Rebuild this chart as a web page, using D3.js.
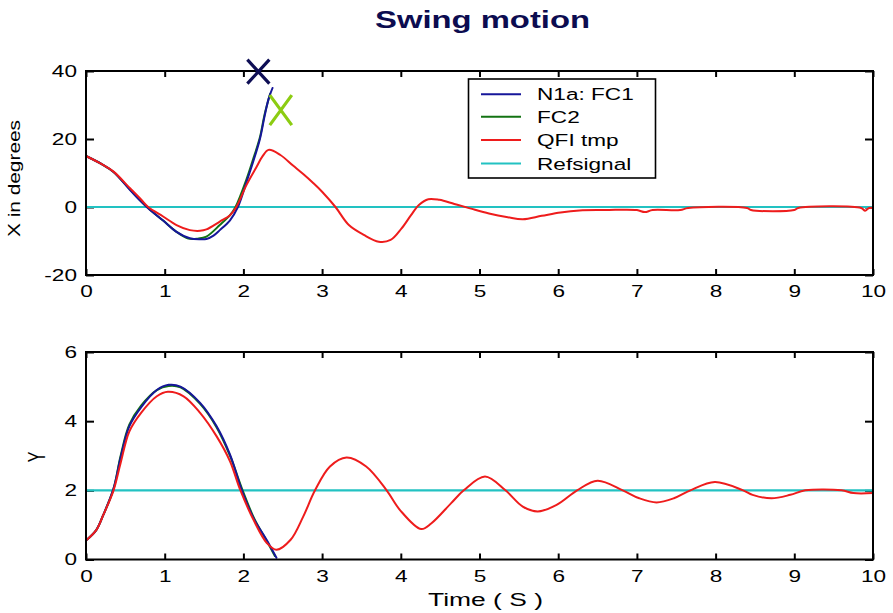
<!DOCTYPE html>
<html>
<head>
<meta charset="utf-8">
<script src="https://cdn.jsdelivr.net/npm/d3@7"></script>
<style>
  body { margin: 0; background: #fff; }
  svg { display: block; }
</style>
</head>
<body>
<svg id="chart" width="893" height="613"></svg>
<script>
// ---- data -------------------------------------------------------------
const timeTicks = [0, 1, 2, 3, 4, 5, 6, 7, 8, 9, 10];
const timeTickLabels = ["0", "1", "2", "3", "4", "5", "6", "7", "8", "9", "10"];
const angleTicks = [-20, 0, 20, 40];
const angleTickLabels = ["-20", "0", "20", "40"];
const posTicks = [0, 2, 4, 6];
const posTickLabels = ["0", "2", "4", "6"];

const seriesNames = ["N1a: FC1", "FC2", "QFI tmp", "Refsignal"];

// swing angle X (degrees) vs time (s)
const angleFC1 = [[0, 15], [0.2, 12.6], [0.35, 10.3], [0.56, 5.0], [0.7, 1.6], [0.8, -0.6], [0.98, -4.0],
  [1.15, -7.3], [1.32, -9.2], [1.45, -9.5], [1.53, -9.4], [1.62, -8.4], [1.7, -6.8], [1.83, -3.9],
  [1.93, 0], [2.04, 7.4], [2.12, 13.0], [2.21, 20.0], [2.27, 26.8], [2.32, 31.8], [2.37, 35]];
const angleFC2 = [[0, 15], [0.2, 12.6], [0.35, 10.3], [0.56, 5.1], [0.7, 1.7], [0.8, -0.5], [0.98, -4.0],
  [1.15, -7.3], [1.3, -9.3], [1.42, -9.3], [1.53, -8.7], [1.7, -5.3], [1.83, -2.4], [1.9, 0],
  [2.04, 8.2], [2.12, 13.8], [2.21, 20.5], [2.27, 27.3], [2.34, 33.3]];
const angleQFI = [[0, 15], [0.2, 12.6], [0.35, 10.4], [0.56, 5.5], [0.7, 2.2], [0.79, 0], [0.98, -2.8],
  [1.15, -5.3], [1.32, -6.8], [1.45, -7.0], [1.53, -6.6], [1.7, -4.3], [1.83, -2.4], [1.91, 0],
  [2.04, 6.5], [2.17, 11.9], [2.24, 14.8], [2.32, 16.8], [2.47, 15.3], [2.63, 12.2], [2.76, 9.7],
  [2.89, 7], [3.0, 4.5], [3.17, 0], [3.34, -5.3], [3.53, -8.2], [3.72, -10.2], [3.87, -9.7],
  [4.01, -6.3], [4.13, -2.4], [4.23, 0.6], [4.35, 2.3], [4.49, 2.1], [4.68, 0.9], [4.88, -0.4],
  [5.12, -1.9], [5.36, -3.0], [5.55, -3.6], [5.79, -2.6], [6.03, -1.6], [6.27, -1.0], [6.6, -0.9],
  [7.0, -0.9], [7.1, -1.5], [7.2, -0.9], [7.55, -0.9], [7.65, -0.3], [8.4, -0.3], [8.45, -0.9],
  [9.0, -0.9], [9.05, -0.3], [9.85, -0.3], [9.9, -1.1], [9.95, -0.3], [10, -0.3]];
const angleRef = [[0, 0], [10, 0]];

// end-of-run markers on the angle panel
const markerTimes = [2.19, 2.475];
const markerAngles = [39.8, 28.5];

// position Y vs time (s)
const posFC1 = [[0, 0.55], [0.13, 0.85], [0.22, 1.29], [0.35, 2.05], [0.44, 2.95], [0.55, 3.85],
  [0.7, 4.4], [0.9, 4.9], [1.05, 5.05], [1.2, 5.0], [1.45, 4.53], [1.66, 3.85], [1.83, 3.03],
  [1.98, 2.0], [2.13, 1.19], [2.3, 0.55], [2.42, 0.05]];
const posFC2 = [[0, 0.55], [0.13, 0.85], [0.22, 1.29], [0.35, 2.05], [0.44, 3.0], [0.55, 3.9],
  [0.7, 4.45], [0.9, 4.9], [1.05, 5.02], [1.2, 4.98], [1.45, 4.5], [1.66, 3.82], [1.83, 3.0],
  [1.99, 2.0], [2.14, 1.17], [2.3, 0.52], [2.4, 0.1]];
const posQFI = [[0, 0.55], [0.13, 0.85], [0.22, 1.29], [0.35, 2.0], [0.44, 2.79], [0.55, 3.7],
  [0.7, 4.24], [0.9, 4.72], [1.04, 4.85], [1.24, 4.72], [1.45, 4.24], [1.66, 3.56], [1.83, 2.84],
  [1.96, 2.01], [2.13, 1.14], [2.3, 0.47], [2.42, 0.28], [2.6, 0.57], [2.76, 1.24], [2.91, 2.0],
  [3.1, 2.69], [3.31, 2.95], [3.56, 2.69], [3.82, 2.0], [3.99, 1.43], [4.26, 0.88], [4.39, 1.05],
  [4.64, 1.63], [4.8, 2.0], [5.07, 2.4], [5.33, 2.0], [5.55, 1.53], [5.74, 1.39], [5.98, 1.58],
  [6.24, 2.0], [6.5, 2.28], [6.82, 2.0], [7.03, 1.77], [7.25, 1.65], [7.47, 1.77], [7.68, 2.0],
  [7.99, 2.24], [8.35, 2.0], [8.47, 1.87], [8.71, 1.77], [8.95, 1.87], [9.14, 2.0], [9.6, 2.0],
  [9.75, 1.92], [10, 1.92]];
const posRef = [[0, 2], [10, 2]];

// ---- layout & style ---------------------------------------------------
const colors = { fc1: "#16169a", fc2: "#137313", qfi: "#ee1c1c", ref: "#22c2c2" };
const font = "'Liberation Sans', Arial, Helvetica, sans-serif";
const SX = 1.33;           // horizontal stretch of all lettering

const svg = d3.select("#chart");
const x = d3.scaleLinear().domain([0, 10]).range([86, 873]);
const yAngle = d3.scaleLinear().domain([-20, 40]).range([275, 71]);
const yPos = d3.scaleLinear().domain([0, 6]).range([559.5, 352]);

const lineGen = y => d3.line()
  .x(d => x(d[0]))
  .y(d => y(d[1]))
  .curve(d3.curveCatmullRom.alpha(0.5));

function panel(y, ticks, tickLabels, series) {
  const [y0, y1] = y.range();
  const [x0, x1] = x.range();

  // inward ticks on all four sides
  const bottom = svg.append("g").attr("transform", `translate(0,${y0})`)
    .call(d3.axisBottom(x).tickValues(timeTicks).tickFormat((d, i) => timeTickLabels[i])
      .tickSizeInner(-6).tickSizeOuter(0).tickPadding(10));
  const top = svg.append("g").attr("transform", `translate(0,${y1})`)
    .call(d3.axisTop(x).tickValues(timeTicks).tickFormat("").tickSizeInner(-6).tickSizeOuter(0));
  const left = svg.append("g").attr("transform", `translate(${x0},0)`)
    .call(d3.axisLeft(y).tickValues(ticks).tickFormat((d, i) => tickLabels[i])
      .tickSizeInner(-8).tickSizeOuter(0).tickPadding(9));
  const right = svg.append("g").attr("transform", `translate(${x1},0)`)
    .call(d3.axisRight(y).tickValues(ticks).tickFormat("").tickSizeInner(-8).tickSizeOuter(0));

  [bottom, top, left, right].forEach(g => {
    g.select(".domain").remove();
    g.attr("font-size", 17).attr("font-family", font).attr("color", "#000");
    g.selectAll("line").attr("stroke-width", 2);
  });
  top.selectAll("text").remove();
  right.selectAll("text").remove();
  bottom.selectAll("text").attr("transform", `scale(${SX},1)`).attr("fill", "#000");
  left.selectAll("text").attr("x", -9 / SX).attr("transform", `scale(${SX},1)`).attr("fill", "#000");

  // curves
  series.forEach(s => {
    svg.append("path")
      .datum(s.data)
      .attr("d", lineGen(y))
      .attr("fill", "none")
      .attr("stroke", s.color)
      .attr("stroke-width", s.width || 2)
      .attr("stroke-linejoin", "round")
      .attr("stroke-linecap", "round");
  });

  // axes box
  svg.append("rect")
    .attr("x", x0).attr("y", y1)
    .attr("width", x1 - x0).attr("height", y0 - y1)
    .attr("fill", "none").attr("stroke", "#000").attr("stroke-width", 2);
}

panel(yAngle, angleTicks, angleTickLabels, [
  { data: angleRef, color: colors.ref, width: 2.2 },
  { data: angleFC2, color: colors.fc2 },
  { data: angleFC1, color: colors.fc1 },
  { data: angleQFI, color: colors.qfi }
]);

panel(yPos, posTicks, posTickLabels, [
  { data: posRef, color: colors.ref, width: 2.2 },
  { data: posFC2, color: colors.fc2 },
  { data: posFC1, color: colors.fc1 },
  { data: posQFI, color: colors.qfi }
]);

// X markers at the end of the FC runs
const markerColors = ["#0e0e55", "#8ccc12"];
const markerSize = [[22, 24], [22, 30]];
markerTimes.forEach((t, i) => {
  const [w, h] = markerSize[i];
  svg.append("path")
    .attr("transform", `translate(${x(t)},${yAngle(markerAngles[i])})`)
    .attr("d", `M${-w / 2},${-h / 2}L${w / 2},${h / 2}M${-w / 2},${h / 2}L${w / 2},${-h / 2}`)
    .attr("fill", "none")
    .attr("stroke", markerColors[i])
    .attr("stroke-width", 3.2);
});

// legend
const legendColors = [colors.fc1, colors.fc2, colors.qfi, colors.ref];
const lg = svg.append("g");
lg.append("rect")
  .attr("x", 468.5).attr("y", 79)
  .attr("width", 187).attr("height", 99)
  .attr("fill", "#fff").attr("stroke", "#000").attr("stroke-width", 1.6);
const legendRows = [94.3, 116.7, 140, 163.5];
seriesNames.forEach((name, i) => {
  const yy = legendRows[i];
  lg.append("line")
    .attr("x1", 481).attr("x2", 521).attr("y1", yy).attr("y2", yy)
    .attr("stroke", legendColors[i]).attr("stroke-width", 2);
  lg.append("text")
    .attr("transform", `translate(537,${yy + 6}) scale(${SX},1)`)
    .attr("font-family", font).attr("font-size", 17).attr("fill", "#000")
    .text(name);
});

// titles and axis labels
svg.append("text")
  .attr("x", 482.5).attr("y", 28)
  .attr("text-anchor", "middle")
  .attr("font-family", font).attr("font-size", 24).attr("font-weight", "bold")
  .attr("fill", "#0c0c50")
  .attr("textLength", 215).attr("lengthAdjust", "spacingAndGlyphs")
  .text("Swing motion");

svg.append("text")
  .attr("x", 485.5).attr("y", 606)
  .attr("text-anchor", "middle")
  .attr("font-family", font).attr("font-size", 18).attr("fill", "#000")
  .attr("textLength", 115).attr("lengthAdjust", "spacingAndGlyphs")
  .text("Time ( S )");

svg.append("text")
  .attr("transform", "translate(20,178.5) rotate(-90)")
  .attr("text-anchor", "middle")
  .attr("font-family", font).attr("font-size", 16).attr("fill", "#000")
  .attr("textLength", 117).attr("lengthAdjust", "spacingAndGlyphs")
  .text("X in degrees");

svg.append("text")
  .attr("transform", "translate(45,457) scale(1.5,1) rotate(-90)")
  .attr("text-anchor", "middle")
  .attr("font-family", font).attr("font-size", 16).attr("fill", "#000")
  .text("Y");
</script>
</body>
</html>
